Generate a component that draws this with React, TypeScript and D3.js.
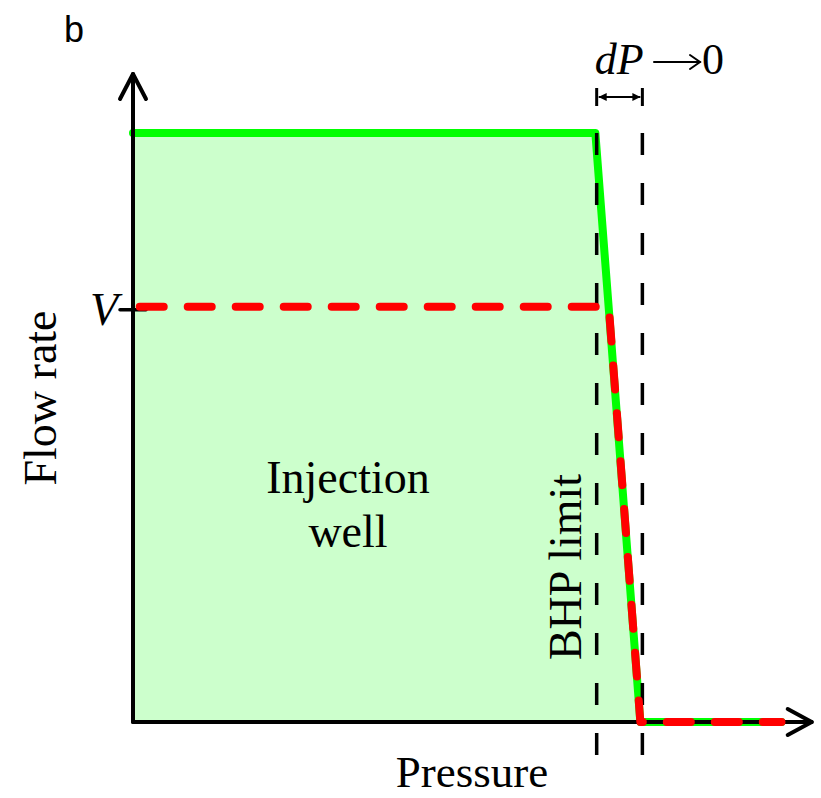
import React from "react";
import * as d3 from "d3";

// Flow-rate curve of the injection well (pressure, flow), normalised units
const GREEN_P = [0, 6.88, 7.55, 9.65];
const GREEN_Q = [1, 1, 0, 0];
// Well control at rate V
const RED_P = [0.1, 7.08, 7.55, 9.65];
const RED_Q = [0.705, 0.705, 0, 0];
const V_LEVEL = 0.705;
// BHP limit and limit + dP
const BHP_P = [6.9, 7.58];

const W = 821;
const H = 798;
const SERIF = "'Liberation Serif', 'Times New Roman', serif";

export default function App() {
  const x = d3.scaleLinear().domain([0, 10]).range([133, 805]);
  const y = d3.scaleLinear().domain([0, 1.1]).range([722, 74]);

  const green = GREEN_P.map((p, i) => [x(p), y(GREEN_Q[i])] as [number, number]);
  const red = RED_P.map((p, i) => [x(p), y(RED_Q[i])] as [number, number]);
  const line = d3.line();
  const area = d3
    .area<[number, number]>()
    .x((d) => d[0])
    .y0(y(0))
    .y1((d) => d[1]);

  const x0 = x(0);
  const y0 = y(0);
  const yTop = y(1.1);
  const xEnd = x(10.1);
  const yV = y(V_LEVEL);
  const yMax = y(1);
  const dpY = 97;
  const arrY = 62;

  return (
    <div style={{ position: "absolute", left: 0, top: 0 }}>
      <svg width={W} height={H} style={{ display: "block", background: "#fff" }}>
        <defs>
          <marker id="tri" viewBox="0 0 10 10" refX="10" refY="5" markerWidth="4" markerHeight="4" orient="auto-start-reverse">
            <path d="M0,0 L10,5 L0,10 z" fill="#000" />
          </marker>
        </defs>

        {/* panel letter */}
        <text x={64} y={42} fontFamily="'Liberation Sans', Arial, sans-serif" fontSize={36}>b</text>

        {/* shaded operating region */}
        <path d={area(green.slice(0, 3)) ?? ""} fill="#ccffcc" />

        {/* green curve */}
        <path d={line(green) ?? ""} fill="none" stroke="#00ff00" strokeWidth={8} strokeLinejoin="round" strokeLinecap="round" />

        {/* BHP dashed verticals */}
        {BHP_P.map((p) => (
          <line key={p} x1={x(p)} x2={x(p)} y1={yMax} y2={760} stroke="#000" strokeWidth={3.5} strokeDasharray="22,28" />
        ))}

        {/* axes */}
        <g stroke="#000" strokeWidth={4} fill="none" strokeLinecap="round" strokeLinejoin="round">
          <line x1={x0} y1={y0} x2={x0} y2={yTop} />
          <line x1={x0} y1={y0} x2={xEnd} y2={y0} />
          <path d={`M${x0 - 13},${yTop + 25}L${x0},${yTop}L${x0 + 13},${yTop + 25}`} />
          <path d={`M${xEnd - 24},${y0 - 13}L${xEnd},${y0}L${xEnd - 24},${y0 + 13}`} />
          <line x1={x0 - 13} x2={x0 + 13} y1={yV + 3} y2={yV + 3} strokeWidth={3.5} />
        </g>

        {/* red dashed curve */}
        <path d={line(red) ?? ""} fill="none" stroke="#ff0000" strokeWidth={8} strokeDasharray="24,24" strokeLinecap="round" strokeLinejoin="round" />

        {/* dP arrow */}
        <g stroke="#000" strokeWidth={3}>
          <line x1={x(BHP_P[0])} x2={x(BHP_P[0])} y1={dpY - 9} y2={dpY + 9} />
          <line x1={x(BHP_P[1])} x2={x(BHP_P[1])} y1={dpY - 9} y2={dpY + 9} />
          <line x1={x(BHP_P[0]) + 2} x2={x(BHP_P[1]) - 2} y1={dpY} y2={dpY} strokeWidth={2} markerStart="url(#tri)" markerEnd="url(#tri)" />
        </g>
        <text x={x(BHP_P[0]) - 2} y={74} fontFamily={SERIF} fontStyle="italic" fontSize={44}>dP</text>
        <g stroke="#000" strokeWidth={2} fill="none" strokeLinecap="round">
          <line x1={654} x2={700} y1={arrY} y2={arrY} />
          <path d={`M690,${arrY - 7}L700,${arrY}L690,${arrY + 7}`} />
        </g>
        <text x={702} y={74} fontFamily={SERIF} fontSize={44}>0</text>

        {/* labels */}
        <text x={118} y={yV + 18} textAnchor="end" fontFamily={SERIF} fontStyle="italic" fontSize={46}>V</text>
        <text transform={`translate(56,398) rotate(-90)`} textAnchor="middle" fontFamily={SERIF} fontSize={46}>Flow rate</text>
        <text x={472} y={787} textAnchor="middle" fontFamily={SERIF} fontSize={45}>Pressure</text>
        <text x={348} y={493} textAnchor="middle" fontFamily={SERIF} fontSize={46}>Injection</text>
        <text x={348} y={547} textAnchor="middle" fontFamily={SERIF} fontSize={46}>well</text>
        <text transform={`translate(581,567) rotate(-90)`} textAnchor="middle" fontFamily={SERIF} fontSize={46}>BHP limit</text>
      </svg>
    </div>
  );
}
